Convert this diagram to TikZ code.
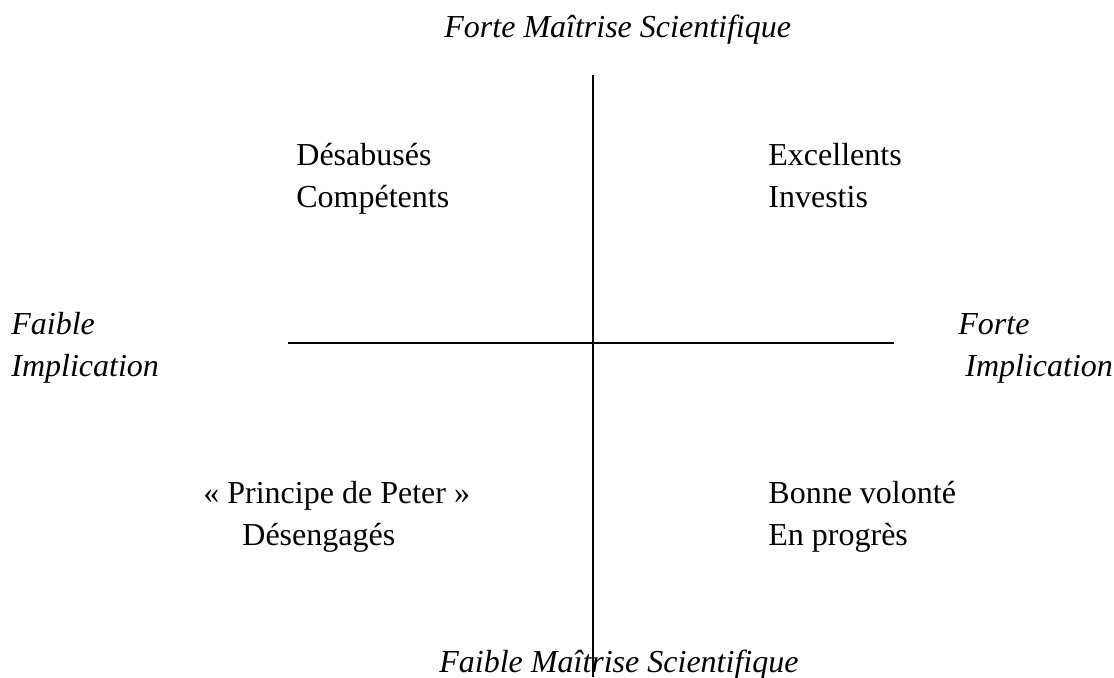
\documentclass[tikz,border=0pt]{standalone}
\usepackage{fontspec}
\setmainfont{Liberation Serif}
\begin{document}
\begin{tikzpicture}[x=0.5pt, y=-0.5pt, font=\fontsize{16}{19}\selectfont, line cap=butt]
\tikzset{lab/.style={anchor=base west, inner sep=0pt}, axe/.style={line width=1pt}}
\useasboundingbox (0,0) rectangle (1114,677);
\coordinate (N) at (593,75); \coordinate (S) at (593,677);
\coordinate (W) at (288,343); \coordinate (E) at (894,343);
\draw[axe] (N)--(S); \draw[axe] (W)--(E);
\node[lab] (fms) at (444,37) {\textit{Forte Maîtrise Scientifique}};
\node[lab] (des) at (296,165) {Désabusés}; \node[lab] (comp) at (296,207) {Compétents};
\node[lab] (exc) at (768,165) {Excellents}; \node[lab] (inv) at (768,207) {Investis};
\node[lab] (fi1) at (11,334) {\textit{Faible}}; \node[lab] (fi2) at (11,376) {\textit{Implication}};
\node[lab] (fo1) at (958,334) {\textit{Forte}}; \node[lab] (fo2) at (965,376) {\textit{Implication}};
\node[lab] (pp) at (203,503) {« Principe de Peter »}; \node[lab] (deg) at (242,545) {Désengagés};
\node[lab] (bv) at (768,503) {Bonne volonté}; \node[lab] (ep) at (768,545) {En progrès};
\node[lab] (fa) at (439,672) {\textit{Faible Maîtrise Scientifique}};
\end{tikzpicture}
\end{document}
